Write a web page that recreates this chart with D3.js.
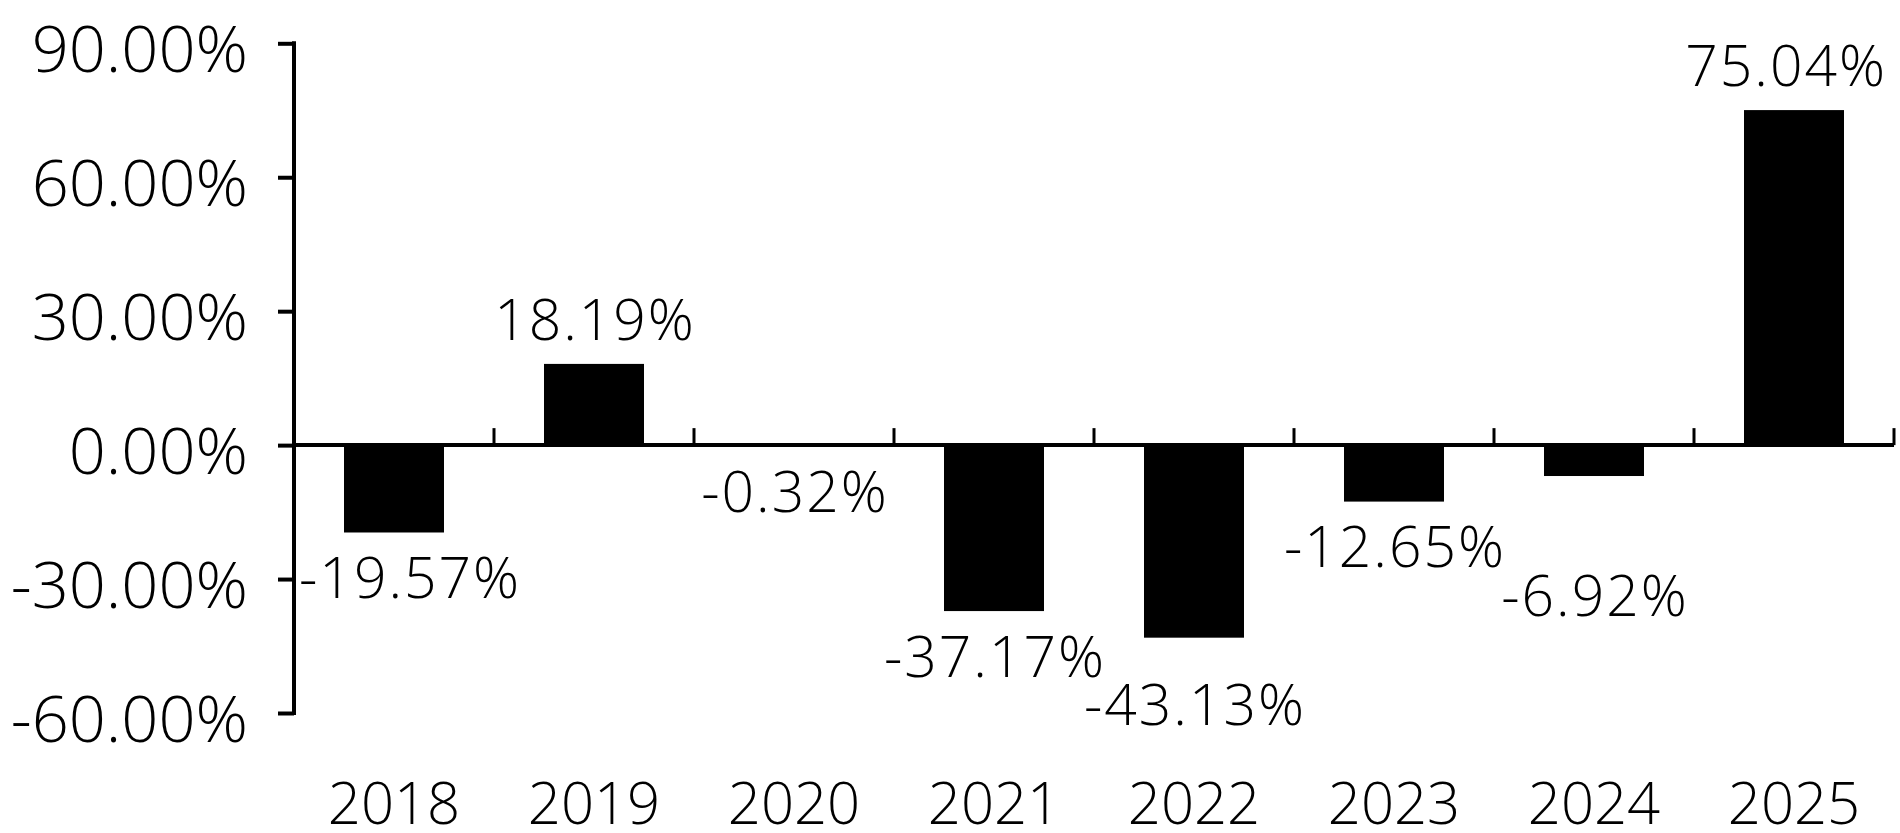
<!DOCTYPE html>
<html>
<head>
<meta charset="utf-8">
<script src="https://cdn.jsdelivr.net/npm/d3@7"></script>
<style>
  html, body { margin: 0; padding: 0; background: #fff; }
  svg { display: block; }
  text { font-family: "Open Sans", "Noto Sans", sans-serif; fill: #000; }
</style>
</head>
<body>
<svg id="chart" width="1900" height="833"></svg>
<script>
const categories = ["2018", "2019", "2020", "2021", "2022", "2023", "2024", "2025"];
const values = [-19.57, 18.19, -0.32, -37.17, -43.13, -12.65, -6.92, 75.04];
const yTicks = [-60, -30, 0, 30, 60, 90];

(function () {
const svg = d3.select("#chart");
const pLeft = 294, pRight = 1894, pTop = 43.3, pBottom = 713;
const fontW = 350;

const x = d3.scaleBand().domain(categories).range([pLeft, pRight])
  .paddingInner(0.5).paddingOuter(0.25);
const y = d3.scaleLinear().domain([-60, 90]).range([pBottom, pTop]);
const locale = d3.formatLocale({decimal: ".", thousands: ",", grouping: [3], currency: ["", ""], minus: "-"});
const f2 = locale.format(".2f");
const fmt = d => f2(d) + "%";

// bars
svg.append("g").selectAll("rect").data(values).join("rect")
  .attr("x", (d, i) => x(categories[i]))
  .attr("width", x.bandwidth())
  .attr("y", d => y(Math.max(0, d)))
  .attr("height", d => Math.abs(y(d) - y(0)))
  .attr("fill", "#000");

// y axis
const yAxis = svg.append("g").attr("transform", `translate(${pLeft},0)`)
  .call(d3.axisLeft(y).tickValues(yTicks).tickFormat(fmt)
    .tickSize(16).tickSizeOuter(0).tickPadding(30));
yAxis.select(".domain").attr("stroke", "#000").attr("stroke-width", 4)
  .attr("d", `M0,${pBottom + 2}V${pTop - 2}`);
yAxis.selectAll(".tick line").attr("stroke", "#000").attr("stroke-width", 4);
yAxis.selectAll(".tick text").attr("font-size", 65).attr("dy", 28)
  .attr("font-weight", fontW)
  .attr("font-family", "'Open Sans', 'Noto Sans', sans-serif").attr("fill", "#000");

// x axis line at zero
const gx = svg.append("g");
gx.append("line").attr("x1", pLeft).attr("x2", pRight)
  .attr("y1", y(0)).attr("y2", y(0))
  .attr("stroke", "#000").attr("stroke-width", 4);
gx.selectAll("line.tk").data(categories).join("line").attr("class", "tk")
  .attr("x1", d => x(d) + x.bandwidth() + x.step() * x.paddingInner() / 2)
  .attr("x2", d => x(d) + x.bandwidth() + x.step() * x.paddingInner() / 2)
  .attr("y1", y(0)).attr("y2", y(0) - 17)
  .attr("stroke", "#000").attr("stroke-width", 3);
gx.selectAll("text").data(categories).join("text")
  .attr("x", d => x(d) + x.bandwidth() / 2)
  .attr("y", 824)
  .attr("text-anchor", "middle")
  .attr("font-size", 58)
  .attr("font-weight", fontW)
  .text(d => d);

// data labels
const fs = 57, capH = 0.714 * fs, ls = 2;
const labels = svg.append("g").selectAll("text").data(values).join("text")
  .attr("text-anchor", "middle")
  .attr("font-size", fs)
  .attr("font-weight", fontW)
  .attr("letter-spacing", ls)
  .text(d => fmt(d));
const boxes = [];
labels.each(function (d, i) {
  const w = this.getComputedTextLength();
  let cx = x(categories[i]) + x.bandwidth() / 2;
  if (cx - w / 2 < pLeft + 4) cx = pLeft + 4 + w / 2;
  if (cx + w / 2 > pRight - 8) cx = pRight - 8 - w / 2;
  let base = d >= 0 ? y(d) - 24 : y(d) + 25 + capH;
  // avoid overlap with the previous label (push down)
  const prev = boxes[i - 1];
  if (prev && d < 0) {
    const l = cx - w / 2, r = cx + w / 2;
    const hOver = l < prev.r + 6 && r > prev.l - 6;
    const vOver = base - capH < prev.b + 4 && base > prev.t - 4;
    if (hOver && vOver) base = prev.b + 8 + capH;
  }
  boxes.push({l: cx - w / 2, r: cx + w / 2, t: base - capH, b: base});
  d3.select(this).attr("x", cx + ls / 2).attr("y", base);
});
})();
</script>
</body>
</html>
